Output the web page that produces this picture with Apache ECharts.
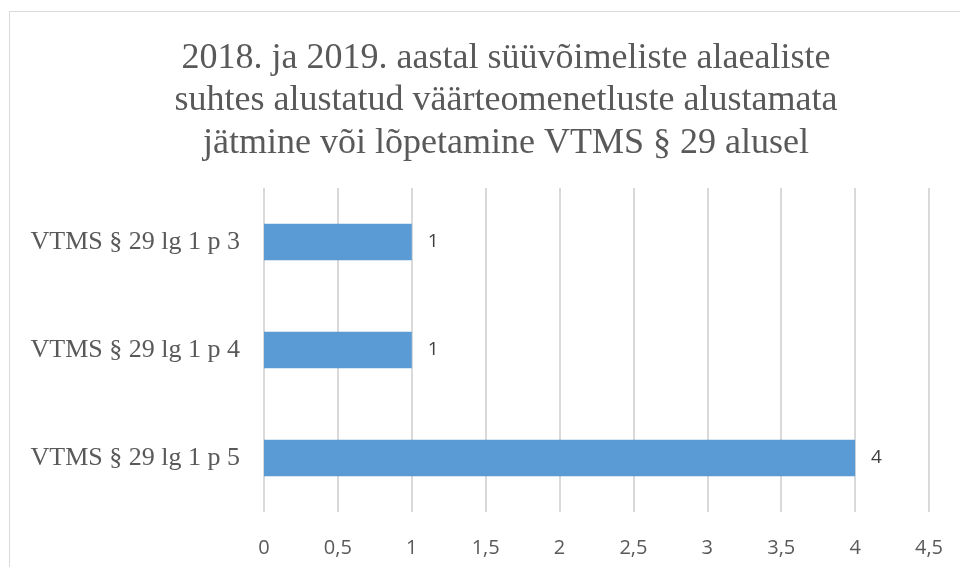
<!DOCTYPE html>
<html><head><meta charset="utf-8">
<script src="https://cdn.jsdelivr.net/npm/echarts@6/dist/echarts.min.js"></script>
<style>html,body{margin:0;padding:0;background:#fff}#c{width:960px;height:567px;position:relative}
#frame{position:absolute;left:9px;top:11px;width:1000px;height:600px;border:1.5px solid #d9d9d9;box-sizing:border-box;pointer-events:none}</style>
</head><body><div id="c"></div><div id="frame"></div>
<script>
const titleLines = ["2018. ja 2019. aastal süüvõimeliste alaealiste", "suhtes alustatud väärteomenetluste alustamata", "jätmine või lõpetamine VTMS § 29 alusel"];
const categories = ["VTMS § 29 lg 1 p 5", "VTMS § 29 lg 1 p 4", "VTMS § 29 lg 1 p 3"];
const values = [4, 1, 1];
const xMin = 0, xMax = 4.5, xStep = 0.5;

const chart = echarts.init(document.getElementById('c'), null, {renderer: 'canvas'});
chart.setOption({
  animation: false,
  backgroundColor: '#fff',
  title: {
    text: titleLines.join('\n'),
    left: 501, textAlign: 'center', top: 32,
    textStyle: {fontFamily: 'Liberation Serif', fontSize: 36, fontWeight: 'normal', color: '#595959', lineHeight: 42.5}
  },
  grid: {left: 264, right: 31, top: 188, bottom: 55},
  xAxis: {
    type: 'value', min: xMin, max: xMax, interval: xStep,
    axisLine: {show: false}, axisTick: {show: false},
    splitLine: {lineStyle: {color: '#d9d9d9', width: 2}},
    axisLabel: {margin: 26, color: '#595959', fontFamily: 'Open Sans', fontSize: 20,
      formatter: v => String(v).replace('.', ',')}
  },
  yAxis: {
    type: 'category', data: categories,
    axisLine: {show: false}, axisTick: {show: false},
    axisLabel: {margin: 24, color: '#595959', fontFamily: 'Liberation Serif', fontSize: 26}
  },
  series: [{
    type: 'bar', data: values, barWidth: '34%',
    itemStyle: {color: '#5b9bd5'},
    label: {show: true, position: 'right', distance: 16, color: '#404040', fontFamily: 'Open Sans', fontSize: 19}
  }]
});
</script></body></html>
